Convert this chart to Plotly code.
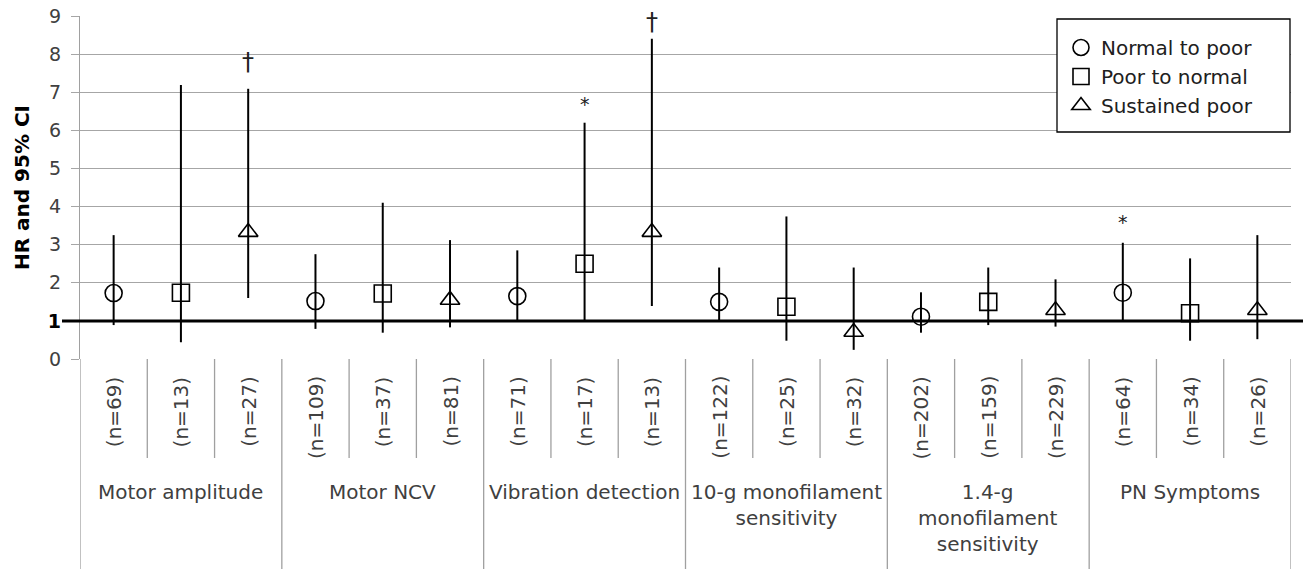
import plotly.graph_objects as go

# ---------------- data ----------------
groups = ["Motor amplitude", "Motor NCV", "Vibration detection",
          "10-g monofilament<br>sensitivity", "1.4-g<br>monofilament<br>sensitivity",
          "PN Symptoms"]
n_labels = ["(n=69)", "(n=13)", "(n=27)",
            "(n=109)", "(n=37)", "(n=81)",
            "(n=71)", "(n=17)", "(n=13)",
            "(n=122)", "(n=25)", "(n=32)",
            "(n=202)", "(n=159)", "(n=229)",
            "(n=64)", "(n=34)", "(n=26)"]
series_names = ["Normal to poor", "Poor to normal", "Sustained poor"]

hr_normal_to_poor = [1.73, 1.52, 1.65, 1.50, 1.11, 1.74]
lo_normal_to_poor = [0.89, 0.79, 1.00, 1.00, 0.69, 1.00]
hi_normal_to_poor = [3.25, 2.75, 2.85, 2.40, 1.75, 3.05]

hr_poor_to_normal = [1.74, 1.72, 2.50, 1.37, 1.50, 1.20]
lo_poor_to_normal = [0.44, 0.69, 1.00, 0.48, 0.89, 0.48]
hi_poor_to_normal = [7.19, 4.10, 6.20, 3.74, 2.40, 2.64]

hr_sustained_poor = [3.33, 1.55, 3.33, 0.71, 1.28, 1.28]
lo_sustained_poor = [1.60, 0.83, 1.39, 0.24, 0.85, 0.52]
hi_sustained_poor = [7.09, 3.12, 8.40, 2.40, 2.09, 3.25]

# significance marks: (category index, y value, symbol)
mark_index = [2, 7, 8, 15]
mark_y = [7.8, 6.7, 8.85, 3.6]
mark_text = ["†", "*", "†", "*"]

y_ticks = [0, 1, 2, 3, 4, 5, 6, 7, 8, 9]

# ---------------- styling / layout helpers ----------------
FONT = "DejaVu Sans"
W, H = 1303, 569
L, R, T, B = 80, 12, 16, 210
plot_top, plot_bot = T, H - B
ph = plot_bot - plot_top
pw = W - L - R
GRID = "#a6a6a6"
TXT = "#404040"


def py(ypx):
    """pixel row -> paper y"""
    return (plot_bot - ypx) / ph


def px(xpx):
    """pixel column -> paper x"""
    return (xpx - L) / pw


series = [
    (series_names[0], hr_normal_to_poor, lo_normal_to_poor, hi_normal_to_poor, "circle-open"),
    (series_names[1], hr_poor_to_normal, lo_poor_to_normal, hi_poor_to_normal, "square-open"),
    (series_names[2], hr_sustained_poor, lo_sustained_poor, hi_sustained_poor, "triangle-up-open"),
]

fig = go.Figure()
ng = len(groups)
for s, (name, hr, lo, hi, sym) in enumerate(series):
    xs = [3 * g + s for g in range(ng)]
    fig.add_trace(go.Scatter(
        x=xs, y=hr, mode="markers", name=name,
        marker=dict(symbol=sym, size=17, color="black", line=dict(width=1.6, color="black")),
        error_y=dict(type="data", symmetric=False,
                     array=[h - v for h, v in zip(hi, hr)],
                     arrayminus=[v - l for v, l in zip(hr, lo)],
                     color="black", thickness=2, width=0),
    ))

annotations = []
shapes = []

# n labels (rotated)
for i, lab in enumerate(n_labels):
    annotations.append(dict(x=i, y=py(374), xref="x", yref="paper", text=lab,
                            textangle=-90, showarrow=False, xanchor="center", yanchor="top",
                            font=dict(family=FONT, size=20, color=TXT)))
# group labels
for g, lab in enumerate(groups):
    annotations.append(dict(x=3 * g + 1, y=py(478), xref="x", yref="paper", text=lab,
                            showarrow=False, xanchor="center", yanchor="top",
                            font=dict(family=FONT, size=20, color=TXT)))
# significance marks
for i, yv, t in zip(mark_index, mark_y, mark_text):
    annotations.append(dict(x=i, y=yv, xref="x", yref="y", text=t, showarrow=False,
                            xanchor="center", yanchor="middle",
                            font=dict(family=FONT, size=24 if t == "†" else 19, color="#222222")))

# separators in the category area
for k in range(len(n_labels) + 1):
    major = (k % 3 == 0)
    shapes.append(dict(type="line", xref="x", yref="paper", x0=k - 0.5, x1=k - 0.5,
                       y0=0, y1=py(H + 2) if major else py(458),
                       line=dict(color="#a0a0a0", width=1.3)))

# thick reference line at HR = 1
shapes.append(dict(type="line", xref="paper", yref="y", x0=px(62), x1=px(W + 2), y0=1, y1=1,
                   line=dict(color="black", width=3)))

# legend frame
shapes.append(dict(type="rect", xref="paper", yref="paper", layer="above",
                   x0=px(1057), x1=px(1290), y0=py(132), y1=py(19),
                   fillcolor="white", line=dict(color="black", width=1.3)))

tick_text = ["<b><span style='color:black'>1</span></b>" if v == 1 else str(v) for v in y_ticks]

fig.update_layout(
    width=W, height=H,
    margin=dict(l=L, r=R, t=T, b=B, autoexpand=False),
    paper_bgcolor="white", plot_bgcolor="white",
    font=dict(family=FONT, size=18, color=TXT),
    showlegend=True,
    legend=dict(x=px(1061), y=py(28), xanchor="left", yanchor="top",
                bgcolor="rgba(0,0,0,0)", borderwidth=0,
                font=dict(family=FONT, size=20, color="#202020"),
                itemsizing="trace", tracegroupgap=0),
    xaxis=dict(range=[-0.5, len(n_labels) - 0.5], showticklabels=False, showgrid=False,
               zeroline=False, showline=False, ticks="", automargin=False),
    yaxis=dict(range=[0, 9], tickvals=y_ticks, ticktext=tick_text, automargin=False,
               showgrid=True, gridcolor=GRID, gridwidth=1.3,
               zeroline=False, showline=True, linecolor="#a0a0a0", linewidth=1.3,
               ticks="outside", ticklen=8, tickcolor=GRID, tickwidth=1.3,
               ticklabelstandoff=6,
               tickfont=dict(family=FONT, size=19, color=TXT),
               title=dict(text="<b>HR and 95% CI</b>", standoff=12,
                          font=dict(family=FONT, size=20, color="black"))),
    annotations=annotations,
    shapes=shapes,
)

fig.write_html("out.html", config={"displayModeBar": False},
               post_script="document.body.style.margin='0';")
